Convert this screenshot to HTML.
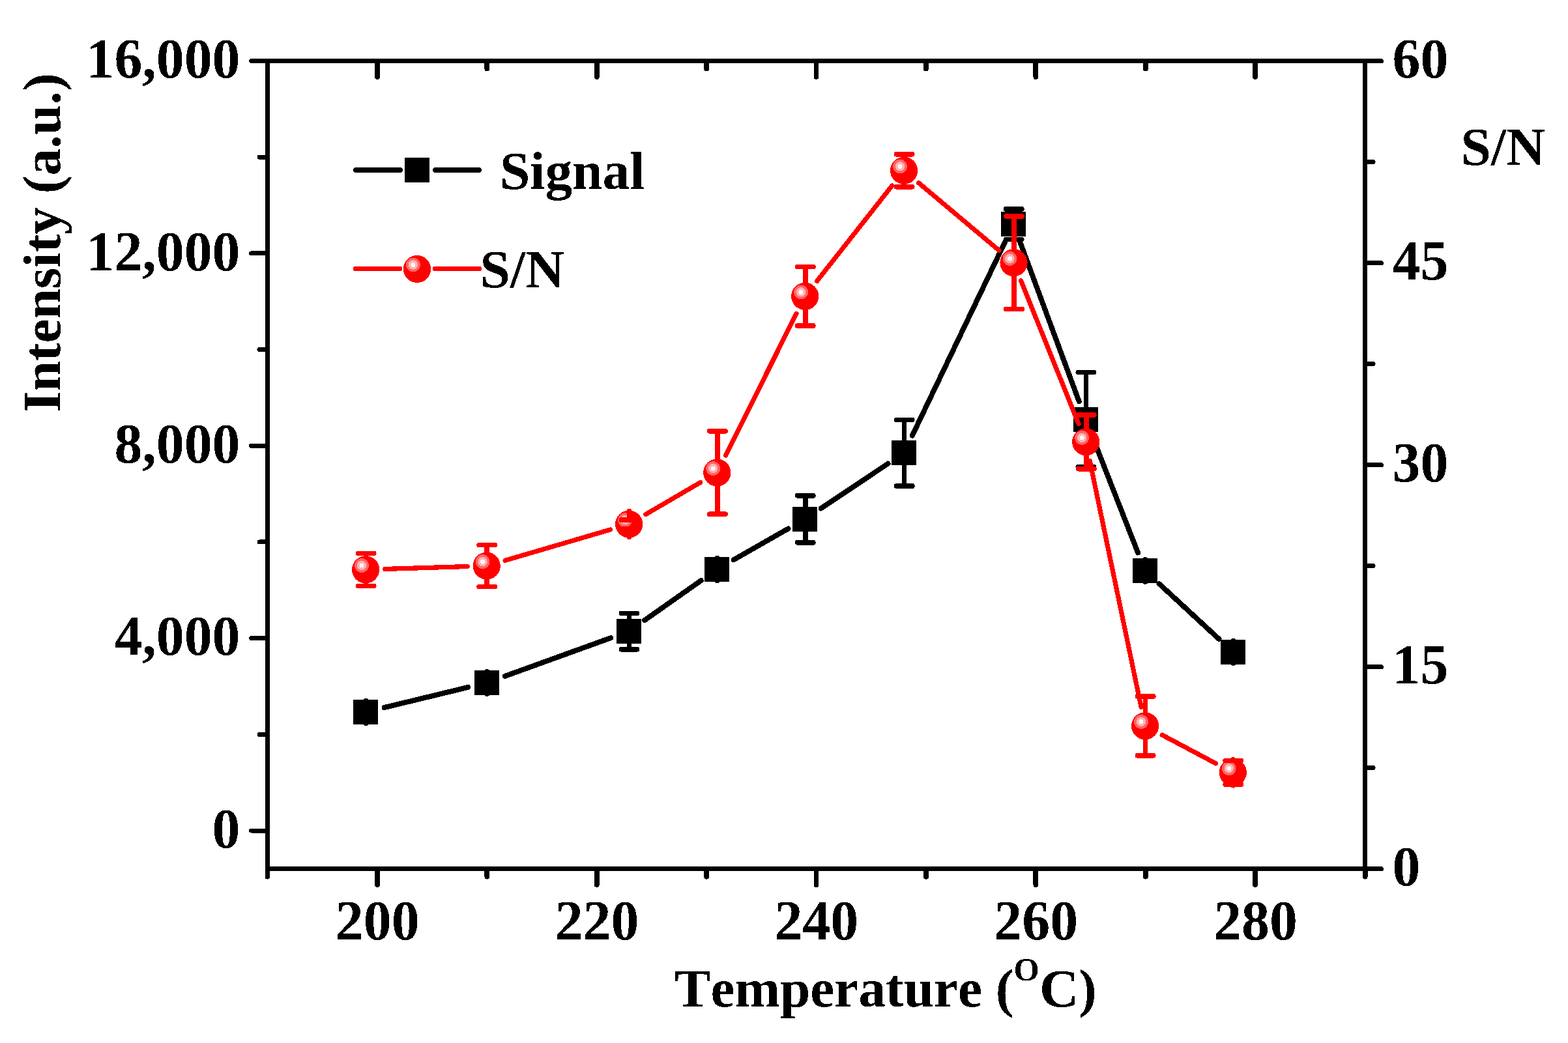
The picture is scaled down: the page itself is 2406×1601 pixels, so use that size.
<!DOCTYPE html>
<html lang="en">
<head>
<meta charset="utf-8">
<title>Signal and S/N vs Temperature</title>
<style>
html,body{margin:0;padding:0;background:#fff;}
body{width:2406px;height:1601px;overflow:hidden;}
svg{display:block;}
</style>
</head>
<body>
<svg width="2406" height="1601" viewBox="0 0 2406 1601" shape-rendering="crispEdges">
<defs><filter id="hard" x="-5%" y="-5%" width="110%" height="110%" color-interpolation-filters="sRGB"><feComponentTransfer><feFuncA type="discrete" tableValues="0 1"/></feComponentTransfer></filter></defs>
<rect width="2406" height="1601" fill="#fff"/>
<g stroke="#000" stroke-width="7.0" stroke-linecap="round" fill="none">
<path d="M410.5 93.5H2094.6M410.5 1333.6H2094.6M410.5 93.5V1333.6M2094.6 93.5V1333.6" stroke-linecap="square"/>
<path d="M410.50 1333.6v12.1M578.91 1334.2v23.9M578.91 94.1v23.9M747.32 1334.2v11.5M747.32 94.1v11.5M915.73 1334.2v23.9M915.73 94.1v23.9M1084.14 1334.2v11.5M1084.14 94.1v11.5M1252.55 1334.2v23.9M1252.55 94.1v23.9M1420.96 1334.2v11.5M1420.96 94.1v11.5M1589.37 1334.2v23.9M1589.37 94.1v23.9M1757.78 1334.2v11.5M1757.78 94.1v11.5M1926.19 1334.2v23.9M1926.19 94.1v23.9M2094.60 1333.6v12.1" stroke-width="7.8"/>
<path d="M410.5 1275.00h-24.9M410.5 1127.31h-12.5M410.5 979.62h-24.9M410.5 831.94h-12.5M410.5 684.25h-24.9M410.5 536.56h-12.5M410.5 388.88h-24.9M410.5 241.19h-12.5M410.5 93.50h-24.9M2094.6 1333.60h24.9M2094.6 1178.59h12.5M2094.6 1023.57h24.9M2094.6 868.56h12.5M2094.6 713.55h24.9M2094.6 558.54h12.5M2094.6 403.52h24.9M2094.6 248.51h12.5M2094.6 93.50h24.9"/>
</g>
<g font-family='"Liberation Serif", "Times New Roman", serif' font-weight="bold" font-size="83.33px" fill="#000" filter="url(#hard)" style="font-kerning:none;font-variant-ligatures:none">
<text x="368.5" y="119.1" text-anchor="end" font-size="85.8px">16,000</text>
<text x="368.5" y="414.5" text-anchor="end" font-size="85.8px">12,000</text>
<text x="368.5" y="709.9" text-anchor="end" font-size="85.8px">8,000</text>
<text x="368.5" y="1005.2" text-anchor="end" font-size="85.8px">4,000</text>
<text x="368.5" y="1300.6" text-anchor="end" font-size="85.8px">0</text>
<text x="2136.5" y="119.1" font-size="85.8px">60</text>
<text x="2136.5" y="429.1" font-size="85.8px">45</text>
<text x="2136.5" y="739.1" font-size="85.8px">30</text>
<text x="2136.5" y="1049.2" font-size="85.8px">15</text>
<text x="2136.5" y="1359.2" font-size="85.8px">0</text>
<text x="579.2" y="1441.7" text-anchor="middle" font-size="85.8px">200</text>
<text x="916.0" y="1441.7" text-anchor="middle" font-size="85.8px">220</text>
<text x="1252.8" y="1441.7" text-anchor="middle" font-size="85.8px">240</text>
<text x="1589.7" y="1441.7" text-anchor="middle" font-size="85.8px">260</text>
<text x="1926.5" y="1441.7" text-anchor="middle" font-size="85.8px">280</text>
<text x="1035" y="1545.3">Temperature (<tspan font-size="50.5px" dy="-40.6">O</tspan><tspan dy="40.6">C)</tspan></text>
<text transform="translate(92.5 633) rotate(-90)">Intensity (a.u.)</text>
<text x="2241.5" y="253.3">S/N</text>
<text x="767" y="290.1">Signal</text>
<text x="736.5" y="441.4">S/N</text>
</g>
<g stroke="#000" stroke-linecap="round" fill="none">
<path stroke-width="8.0" d="M589.77 1086.04L718.13 1054.96M774.73 1037.93L937.17 979.17M989.20 952.05L1075.80 891.05M1125.70 859.32L1209.50 811.48M1259.80 780.34L1362.50 711.66M1399.88 668.50L1542.32 370.90M1565.37 371.96L1655.73 616.24M1676.80 671.56L1746.10 848.44M1778.64 896.09L1870.36 980.81"/>
<path stroke-width="7.6" d="M561.50 1075.80V1110.20M747.40 1030.80V1065.20M965.50 941.40V996.80M953.30 941.40h24.4M953.30 996.80h24.4M1100.50 856.80V891.20M1235.70 760.80V832.80M1223.50 760.80h24.4M1223.50 832.80h24.4M1387.60 644.40V746.00M1375.40 644.40h24.4M1375.40 746.00h24.4M1555.60 320.90V367.50M1543.40 320.90h24.4M1543.40 367.50h24.4M1666.50 571.50V716.50M1654.30 571.50h24.4M1654.30 716.50h24.4M1757.40 858.80V893.20M1892.60 983.70V1018.10"/>
</g>
<g fill="#000">
<rect x="542.00" y="1074.00" width="38" height="38"/>
<rect x="727.90" y="1029.00" width="38" height="38"/>
<rect x="946.00" y="950.10" width="38" height="38"/>
<rect x="1081.00" y="855.00" width="38" height="38"/>
<rect x="1216.20" y="777.80" width="38" height="38"/>
<rect x="1368.10" y="676.20" width="38" height="38"/>
<rect x="1536.10" y="325.20" width="38" height="38"/>
<rect x="1647.00" y="625.00" width="38" height="38"/>
<rect x="1737.90" y="857.00" width="38" height="38"/>
<rect x="1873.10" y="981.90" width="38" height="38"/>
</g>
<g stroke="#f00" stroke-linecap="round" fill="none">
<path stroke-width="7.2" d="M590.69 873.48L717.11 869.52M775.11 860.28L936.79 812.92M990.74 789.64L1074.76 740.46M1113.50 699.01L1222.00 481.29M1253.51 431.54L1368.79 285.06M1409.76 280.84L1532.84 384.26M1566.55 430.76L1655.15 650.84M1672.24 707.28L1751.06 1085.32M1783.24 1128.18L1865.66 1171.92"/>
<path stroke-width="7.6" d="M561.60 849.40V899.40M549.40 849.40h24.4M549.40 899.40h24.4M747.20 836.60V900.60M735.00 836.60h24.4M735.00 900.60h24.4M1100.80 661.80V789.20M1088.60 661.80h24.4M1088.60 789.20h24.4M1235.70 409.60V500.00M1223.50 409.60h24.4M1223.50 500.00h24.4M1387.60 236.80V286.80M1375.40 236.80h24.4M1375.40 286.80h24.4M1556.00 332.00V474.60M1543.80 332.00h24.4M1543.80 474.60h24.4M1666.70 636.90V719.70M1654.50 636.90h24.4M1654.50 719.70h24.4M1757.60 1068.90V1159.70M1745.40 1068.90h24.4M1745.40 1159.70h24.4"/>
</g>
<circle cx="561.10" cy="874.40" r="21.1" fill="#f00"/><circle cx="555.00" cy="868.00" r="10.9" fill="#ff6666"/><circle cx="555.00" cy="868.00" r="7.2" fill="#ffb3b3"/><circle cx="555.00" cy="868.00" r="3.5" fill="#fffafa"/>
<circle cx="746.70" cy="868.60" r="21.1" fill="#f00"/><circle cx="740.60" cy="862.20" r="10.9" fill="#ff6666"/><circle cx="740.60" cy="862.20" r="7.2" fill="#ffb3b3"/><circle cx="740.60" cy="862.20" r="3.5" fill="#fffafa"/>
<circle cx="965.20" cy="804.60" r="21.1" fill="#f00"/><circle cx="959.10" cy="798.20" r="10.9" fill="#ff6666"/><circle cx="959.10" cy="798.20" r="7.2" fill="#ffb3b3"/><circle cx="959.10" cy="798.20" r="3.5" fill="#fffafa"/>
<circle cx="1100.30" cy="725.50" r="21.1" fill="#f00"/><circle cx="1094.20" cy="719.10" r="10.9" fill="#ff6666"/><circle cx="1094.20" cy="719.10" r="7.2" fill="#ffb3b3"/><circle cx="1094.20" cy="719.10" r="3.5" fill="#fffafa"/>
<circle cx="1235.20" cy="454.80" r="21.1" fill="#f00"/><circle cx="1229.10" cy="448.40" r="10.9" fill="#ff6666"/><circle cx="1229.10" cy="448.40" r="7.2" fill="#ffb3b3"/><circle cx="1229.10" cy="448.40" r="3.5" fill="#fffafa"/>
<circle cx="1387.10" cy="261.80" r="21.1" fill="#f00"/><circle cx="1381.00" cy="255.40" r="10.9" fill="#ff6666"/><circle cx="1381.00" cy="255.40" r="7.2" fill="#ffb3b3"/><circle cx="1381.00" cy="255.40" r="3.5" fill="#fffafa"/>
<circle cx="1555.50" cy="403.30" r="21.1" fill="#f00"/><circle cx="1549.40" cy="396.90" r="10.9" fill="#ff6666"/><circle cx="1549.40" cy="396.90" r="7.2" fill="#ffb3b3"/><circle cx="1549.40" cy="396.90" r="3.5" fill="#fffafa"/>
<circle cx="1666.20" cy="678.30" r="21.1" fill="#f00"/><circle cx="1660.10" cy="671.90" r="10.9" fill="#ff6666"/><circle cx="1660.10" cy="671.90" r="7.2" fill="#ffb3b3"/><circle cx="1660.10" cy="671.90" r="3.5" fill="#fffafa"/>
<circle cx="1757.10" cy="1114.30" r="21.1" fill="#f00"/><circle cx="1751.00" cy="1107.90" r="10.9" fill="#ff6666"/><circle cx="1751.00" cy="1107.90" r="7.2" fill="#ffb3b3"/><circle cx="1751.00" cy="1107.90" r="3.5" fill="#fffafa"/>
<circle cx="1891.80" cy="1185.80" r="21.1" fill="#f00"/><circle cx="1885.70" cy="1179.40" r="10.9" fill="#ff6666"/><circle cx="1885.70" cy="1179.40" r="7.2" fill="#ffb3b3"/><circle cx="1885.70" cy="1179.40" r="3.5" fill="#fffafa"/>
<path stroke="#f00" stroke-linecap="round" fill="none" stroke-width="7.6" d="M965.70 784.60V797.90M965.70 824.60V811.30M953.50 797.90h24.4M953.50 811.30h24.4M1892.30 1165.80V1167.60M1892.30 1205.80V1204.00M1880.10 1167.60h24.4M1880.10 1204.00h24.4"/>
<g stroke-linecap="round" fill="none">
<path stroke="#000" stroke-width="8.0" d="M546 260.9H614M668 260.9H735"/>
<path stroke="#f00" stroke-width="7.2" d="M545.5 412.5H613.5M667.5 412.5H735.4"/>
</g>
<rect x="621" y="241.9" width="38" height="38" fill="#000"/>
<circle cx="640.05" cy="412.90" r="21.1" fill="#f00"/><circle cx="633.95" cy="406.50" r="10.9" fill="#ff6666"/><circle cx="633.95" cy="406.50" r="7.2" fill="#ffb3b3"/><circle cx="633.95" cy="406.50" r="3.5" fill="#fffafa"/>
</svg>
</body>
</html>
